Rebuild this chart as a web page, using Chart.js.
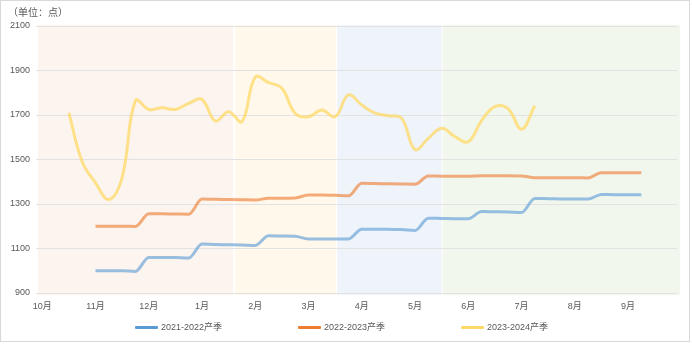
<!DOCTYPE html>
<html>
<head>
<meta charset="utf-8">
<script src="https://cdn.jsdelivr.net/npm/chart.js@4"></script>
<style>
  body { margin: 0; background: #fff; }
  #wrap { position: relative; width: 692px; height: 345px; font-family: "Liberation Sans", "Noto Sans CJK SC", sans-serif; color: #595959; }
  #frame { position: absolute; left: 0; top: 0; width: 690px; height: 342px; box-sizing: border-box; border: 1px solid #d9d9d9; }
  #unit { position: absolute; left: 8px; top: 4px; font-size: 10px; }
  #cv { position: absolute; left: 0; top: 0; }
  .leg { position: absolute; top: 320px; font-size: 9px; line-height: 14px; white-space: nowrap; }
  .leg i { display: inline-block; width: 23px; height: 3px; margin-right: 3px; vertical-align: middle; border-radius: 1px; }
</style>
</head>
<body>
<div id="wrap">
  <div id="frame"></div>
  <canvas id="cv" width="692" height="345"></canvas>
  <div id="unit">（单位：点）</div>
  <div class="leg" style="left:135px"><i style="background:#5b9bd5"></i>2021-2022产季</div>
  <div class="leg" style="left:298px"><i style="background:#ed7d31"></i>2022-2023产季</div>
  <div class="leg" style="left:461px"><i style="background:#ffd966"></i>2023-2024产季</div>
</div>
<script>
// month ticks: 0 = 10月 ... 11 = 9月
const months = ["10月", "11月", "12月", "1月", "2月", "3月", "4月", "5月", "6月", "7月", "8月", "9月"];

// weekly positions (in months) for the two older seasons
const weeksOld = [1, 1.25, 1.5, 1.75, 2, 2.25, 2.5, 2.75, 3, 3.25, 3.5, 3.75, 4, 4.25, 4.5, 4.75,
  5, 5.25, 5.5, 5.75, 6, 6.25, 6.5, 6.75, 7, 7.25, 7.5, 7.75, 8, 8.25, 8.5, 8.75,
  9, 9.25, 9.5, 9.75, 10, 10.25, 10.5, 10.75, 11, 11.25];

const season2122 = [1000, 1000, 1000, 997, 1060, 1060, 1059, 1057, 1120, 1118, 1117, 1116, 1114, 1157, 1156, 1155,
  1143, 1143, 1143, 1143, 1187, 1187, 1186, 1185, 1181, 1236, 1235, 1234, 1234, 1266, 1265, 1264,
  1262, 1325, 1324, 1323, 1323, 1322, 1343, 1342, 1342, 1342];

const season2223 = [1200, 1200, 1200, 1199, 1256, 1256, 1255, 1254, 1322, 1321, 1320, 1319, 1318, 1326, 1326, 1327,
  1340, 1340, 1339, 1337, 1393, 1392, 1391, 1390, 1389, 1426, 1425, 1425, 1425, 1427, 1427, 1427,
  1426, 1418, 1418, 1418, 1418, 1417, 1441, 1440, 1440, 1440];

// current season, weekly
const weeksNew = [0.5, 0.75, 1, 1.25, 1.5, 1.75, 2, 2.25, 2.5, 2.75, 3, 3.25, 3.5, 3.75, 4, 4.25, 4.5, 4.75,
  5, 5.25, 5.5, 5.75, 6, 6.25, 6.5, 6.75, 7, 7.25, 7.5, 7.75, 8, 8.25, 8.5, 8.75, 9, 9.25];

const season2324 = [1710, 1490, 1395, 1320, 1420, 1765, 1725, 1733, 1725, 1752, 1770, 1673, 1715, 1670, 1870, 1846, 1820, 1707,
  1692, 1722, 1692, 1790, 1745, 1708, 1697, 1685, 1545, 1595, 1640, 1603, 1580, 1675, 1738, 1728, 1636, 1742];

// background bands in month units, edges and fills
const bandEdges = [-0.08, 3.6, 5.52, 7.5, 11.98];
const bandColors = ["#fcf4ef", "#fff8eb", "#eff3fa", "#f2f7ee"];

const pts = (xs, ys) => xs.map((x, i) => ({ x, y: ys[i] }));

const bands = {
  id: "bands",
  beforeDraw(chart) {
    const { ctx, chartArea, scales } = chart;
    ctx.save();
    for (let i = 0; i < bandColors.length; i++) {
      const x0 = scales.x.getPixelForValue(bandEdges[i]);
      const x1 = scales.x.getPixelForValue(bandEdges[i + 1]);
      ctx.fillStyle = bandColors[i];
      ctx.fillRect(x0 + (i ? 1 : 0), chartArea.top - 1, x1 - x0 - 1, chartArea.bottom - chartArea.top + 3);
    }
    ctx.restore();
  }
};

const lineStyle = (label, data, color, extra) => Object.assign({
  label,
  data,
  borderColor: color,
  borderWidth: 3,
  pointRadius: 0,
  fill: false
}, extra);

new Chart(document.getElementById("cv"), {
  type: "line",
  data: {
    datasets: [
      lineStyle("2021-2022产季", pts(weeksOld, season2122), "rgba(91,155,213,0.62)", { cubicInterpolationMode: "monotone" }),
      lineStyle("2022-2023产季", pts(weeksOld, season2223), "rgba(237,125,49,0.62)", { cubicInterpolationMode: "monotone" }),
      lineStyle("2023-2024产季", pts(weeksNew, season2324), "rgba(255,217,102,0.75)", { tension: 0.4 })
    ]
  },
  options: {
    responsive: false,
    animation: false,
    layout: { padding: { top: 26, right: 15, bottom: 0, left: 0 } },
    plugins: { legend: { display: false }, tooltip: { enabled: false } },
    scales: {
      x: {
        type: "linear",
        min: -0.08,
        max: 11.92,
        grid: { display: false, drawTicks: false },
        border: { display: false },
        afterBuildTicks: axis => { axis.ticks = months.map((m, i) => ({ value: i })); },
        afterFit: axis => { axis.height = 52; },
        ticks: {
          padding: 8,
          color: "#595959",
          font: { size: 9, family: "'Liberation Sans', 'Noto Sans CJK SC'" },
          callback: v => months[v]
        }
      },
      y: {
        min: 900,
        max: 2100,
        grid: { color: "#e2e2e2", tickLength: 2 },
        border: { display: false },
        afterFit: axis => { axis.width = 38; },
        ticks: {
          stepSize: 200,
          padding: 6,
          color: "#595959",
          font: { size: 9, family: "'Liberation Sans', 'Noto Sans CJK SC'" },
          callback: v => String(v)
        }
      }
    }
  },
  plugins: [bands]
});
</script>
</body>
</html>
